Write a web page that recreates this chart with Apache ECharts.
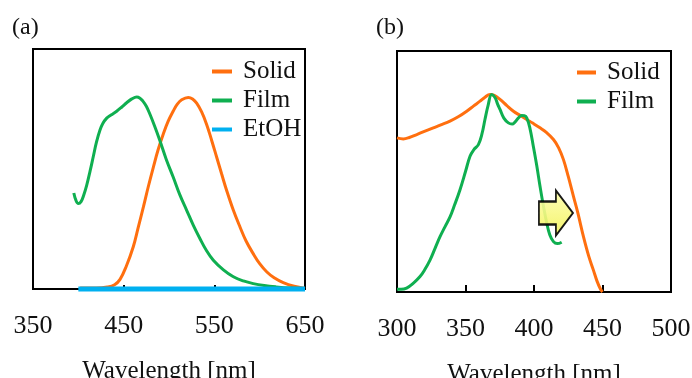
<!DOCTYPE html>
<html><head><meta charset="utf-8">
<script src="https://cdn.jsdelivr.net/npm/echarts@6/dist/echarts.min.js"></script>
<style>html,body{margin:0;padding:0;background:#fff}#c{width:692px;height:378px}</style>
</head><body><div id="c"></div>
<script>
// Panel (a): emission spectra, normalized intensity vs wavelength (nm)
var aTicks = [350, 450, 550, 650];
var aSolid = [[402,0.005],[420,0.005],[432,0.01],[440,0.022],[446,0.05],[453,0.12],[460.6,0.22],[466,0.32],[471.7,0.426],[477,0.53],[482.7,0.634],[488,0.725],[493.7,0.807],[499,0.873],[504.7,0.927],[509,0.962],[514,0.986],[521.3,0.998],[526,0.99],[530.5,0.968],[536,0.922],[541.6,0.856],[547,0.775],[552.6,0.686],[558,0.6],[563.6,0.513],[571,0.41],[578.3,0.323],[585,0.25],[593,0.183],[600,0.132],[607.7,0.09],[616,0.058],[626,0.033],[638,0.014],[650,0.003]];
var aFilm = [[395,0.5],[397.5,0.46],[400,0.445],[403,0.455],[406,0.49],[409.2,0.54],[413,0.615],[416.5,0.69],[420,0.765],[423.9,0.828],[427,0.862],[431.3,0.89],[436,0.906],[442.3,0.926],[448,0.948],[453.3,0.97],[459,0.99],[464.4,1.0],[468,0.994],[471,0.98],[475,0.952],[479,0.91],[484,0.85],[490,0.772],[497,0.675],[504.7,0.582],[512,0.49],[519.5,0.41],[527,0.33],[534.2,0.262],[541,0.203],[548.9,0.15],[560,0.1],[571,0.064],[582,0.042],[593,0.028],[605,0.018],[618,0.011],[634,0.005],[650,0.002]];
var aEtOH = [[400,0],[650,0]];
// Panel (b): excitation spectra
var bTicks = [300, 350, 400, 450, 500];
var bSolid = [[300,0.78],[304.6,0.775],[309,0.782],[314.4,0.797],[320,0.813],[326.5,0.831],[332,0.846],[338.7,0.865],[345,0.888],[350.9,0.915],[356,0.942],[360.6,0.966],[364,0.985],[367.9,1.0],[371,0.995],[375.2,0.975],[380,0.945],[385,0.915],[390,0.893],[394.7,0.873],[399,0.855],[404.4,0.831],[409,0.808],[414.2,0.772],[418,0.73],[421.5,0.67],[425,0.585],[428.8,0.484],[432,0.4],[436.1,0.28],[440,0.18],[443.3,0.112],[446,0.055],[448.5,0.015],[450,0]];
var bFilm = [[300,0.014],[303,0.014],[307,0.02],[312,0.045],[316.8,0.078],[320,0.11],[324,0.16],[328,0.225],[331.4,0.28],[335,0.33],[338.7,0.38],[342,0.44],[346,0.518],[350,0.61],[353.3,0.687],[356,0.72],[359.4,0.746],[362,0.8],[364.2,0.873],[366.5,0.945],[369.1,1.0],[371.5,0.985],[373.5,0.95],[375.2,0.924],[378,0.88],[381.3,0.856],[384,0.85],[386.1,0.86],[388.5,0.88],[391,0.893],[393,0.892],[394.7,0.882],[397,0.83],[399.5,0.738],[402,0.64],[404.4,0.535],[407,0.43],[409.3,0.349],[411.5,0.29],[414.2,0.255],[417,0.245],[420.2,0.252]];
var arrowAt = [416, 0.40];

var serif = '"Liberation Serif", "Times New Roman", serif';
var cOrange = '#FF6F0F', cGreen = '#0FAF50', cBlue = '#00B0F0';

function xAxisFor(idx, min, max, interval, tickLen) {
  return {
    type: 'value', gridIndex: idx, min: min, max: max, interval: interval,
    name: 'Wavelength [nm]', nameLocation: 'middle', nameGap: 70,
    nameTextStyle: {fontFamily: serif, fontSize: 25, color: '#111'},
    axisLine: {show: true, lineStyle: {color: '#000', width: 2}},
    axisTick: {show: true, inside: true, length: tickLen, lineStyle: {color: '#000', width: 2}},
    axisLabel: {fontFamily: serif, fontSize: 26, color: '#111', margin: 24, showMinLabel: true, showMaxLabel: true},
    splitLine: {show: false}
  };
}
function yAxisFor(idx, max) {
  return {type: 'value', gridIndex: idx, min: 0, max: max,
    axisLine: {show: true, lineStyle: {color: '#000', width: 2}},
    axisTick: {show: false}, axisLabel: {show: false}, splitLine: {show: false}};
}
var legendCommon = {
  orient: 'vertical', icon: 'rect', itemWidth: 20, itemHeight: 4, itemGap: 4,
  textStyle: {fontFamily: serif, fontSize: 25, color: '#111', lineHeight: 25, padding: [0, 0, 0, 6]},
  inactiveColor: '#ccc'
};
var smoothLine = {type: 'line', showSymbol: false, smooth: 0.4, z: 3};

var chart = echarts.init(document.getElementById('c'), null, {renderer: 'canvas'});
chart.setOption({
  animation: false,
  backgroundColor: '#fff',
  title: [
    {text: '(a)', left: 7, top: 11, textStyle: {fontFamily: serif, fontSize: 24, fontWeight: 'normal', color: '#111'}},
    {text: '(b)', left: 371, top: 11, textStyle: {fontFamily: serif, fontSize: 24, fontWeight: 'normal', color: '#111'}}
  ],
  grid: [
    {left: 33, width: 272, top: 49, height: 240, show: true, borderColor: '#000', borderWidth: 2, backgroundColor: 'transparent', containLabel: false, outerBoundsMode: 'none'},
    {left: 397, width: 274, top: 51, height: 241, show: true, borderColor: '#000', borderWidth: 2, backgroundColor: 'transparent', containLabel: false, outerBoundsMode: 'none'}
  ],
  xAxis: [xAxisFor(0, aTicks[0], aTicks[aTicks.length - 1], 100, 4), xAxisFor(1, bTicks[0], bTicks[bTicks.length - 1], 50, 7)],
  yAxis: [yAxisFor(0, 1.25), yAxisFor(1, 1.22)],
  legend: [
    Object.assign({}, legendCommon, {left: 207, top: 54, data: ['Solid', 'Film', 'EtOH']}),
    Object.assign({}, legendCommon, {left: 572, top: 55, itemWidth: 19, data: ['Solid ', 'Film ']})
  ],
  series: [
    {name: 'EtOH', type: 'line', xAxisIndex: 0, yAxisIndex: 0, data: aEtOH, showSymbol: false, clip: false, z: 4,
      lineStyle: {color: cBlue, width: 5}, itemStyle: {color: cBlue}},
    Object.assign({}, smoothLine, {name: 'Solid', xAxisIndex: 0, yAxisIndex: 0, data: aSolid,
      lineStyle: {color: cOrange, width: 3}, itemStyle: {color: cOrange}}),
    Object.assign({}, smoothLine, {name: 'Film', xAxisIndex: 0, yAxisIndex: 0, data: aFilm,
      lineStyle: {color: cGreen, width: 3}, itemStyle: {color: cGreen}}),
    Object.assign({}, smoothLine, {name: 'Solid ', xAxisIndex: 1, yAxisIndex: 1, data: bSolid,
      lineStyle: {color: cOrange, width: 3}, itemStyle: {color: cOrange},
      markPoint: {silent: true, symbol: 'path://M0,11 L17,11 L17,0 L34,22.5 L17,45 L17,34 L0,34 Z', symbolSize: [34, 45],
        label: {show: false},
        itemStyle: {color: {type: 'linear', x: 0, y: 0, x2: 0, y2: 1, colorStops: [{offset: 0, color: '#FFFFB0'}, {offset: 1, color: '#F2F25A'}]}, borderColor: '#000', borderWidth: 2, opacity: 0.9},
        data: [{coord: arrowAt}]}}),
    Object.assign({}, smoothLine, {name: 'Film ', xAxisIndex: 1, yAxisIndex: 1, data: bFilm,
      lineStyle: {color: cGreen, width: 3}, itemStyle: {color: cGreen}})
  ]
});
</script></body></html>
